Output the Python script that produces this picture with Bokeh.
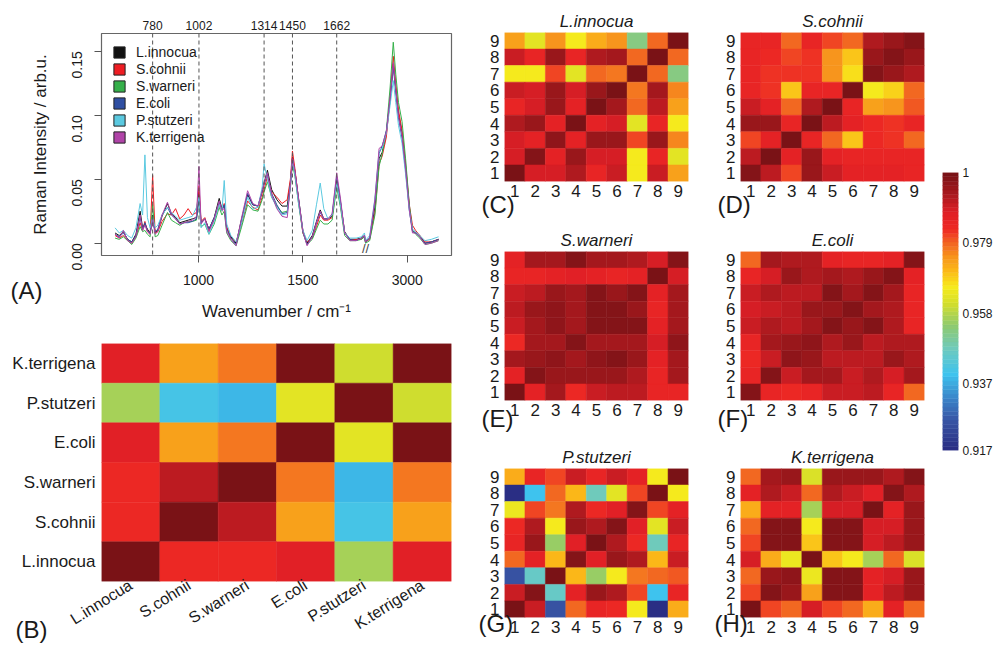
import math
import numpy as np
from bokeh.plotting import figure
from bokeh.layouts import row, column
from bokeh.models import (Range1d, FixedTicker, LinearAxis, Span, Label, Legend, LegendItem, Title,
                          ColumnDataSource, FactorRange, LinearColorMapper, PrintfTickFormatter,
                          NumeralTickFormatter)
from bokeh.transform import transform
from bokeh.embed import file_html
from bokeh.resources import INLINE

FONT = "Liberation Sans"
TXT = "#1a1a1a"

# ---------------- data ----------------
species = ["L.innocua", "S.cohnii", "S.warneri", "E.coli", "P.stutzeri", "K.terrigena"]
series_colors = ["#111111", "#ee1d23", "#35b04a", "#2f4fa2", "#5bc9e0", "#b044a8"]

wavenumber = [600, 620, 640, 660, 680, 700, 720, 732, 743, 755, 768, 780, 792, 805, 825, 851,
              870, 890, 910, 930, 950, 970, 990, 1002, 1012, 1030, 1050, 1075, 1099, 1112, 1123,
              1135, 1155, 1180, 1205, 1235, 1260, 1285, 1305, 1314, 1330, 1350, 1375, 1400, 1425,
              1440, 1450, 1462, 1480, 1500, 1520, 1545, 1565, 1583, 1600, 1620, 1640, 1662, 1680,
              1700, 1725, 1755, 1780, 1795,
              2800, 2820, 2845, 2865, 2880, 2900, 2918, 2933, 2945, 2958, 2975, 2992, 3010, 3025,
              3040, 3060, 3085, 3115, 3150]

int_L_innocua = [0.008, 0.006, 0.009, 0.003, 0.001, 0.007, 0.025, 0.012, 0.015, 0.011, 0.008, 0.022,
                 0.008, 0.010, 0.021, 0.031, 0.023, 0.020, 0.016, 0.017, 0.018, 0.019, 0.020, 0.040,
                 0.016, 0.019, 0.011, 0.020, 0.035, 0.027, 0.029, 0.012, 0.005, 0.000, 0.018, 0.038,
                 0.030, 0.029, 0.040, 0.047, 0.057, 0.042, 0.034, 0.029, 0.029, 0.048, 0.067, 0.056,
                 0.034, 0.010, 0.000, 0.006, 0.017, 0.026, 0.019, 0.019, 0.021, 0.049, 0.032, 0.009,
                 0.003, 0.003, 0.004, 0.006,
                 0.001, 0.004, 0.028, 0.066, 0.071, 0.086, 0.112, 0.140, 0.120, 0.101, 0.086, 0.060,
                 0.028, 0.010, 0.008, 0.006, 0.000, 0.001, 0.003]
int_S_cohnii = [0.006, 0.004, 0.006, 0.002, 0.000, 0.005, 0.016, 0.010, 0.017, 0.009, 0.007, 0.053,
                0.008, 0.009, 0.017, 0.023, 0.022, 0.027, 0.019, 0.022, 0.027, 0.022, 0.024, 0.045,
                0.017, 0.020, 0.010, 0.018, 0.030, 0.025, 0.031, 0.013, 0.004, 0.001, 0.014, 0.033,
                0.028, 0.026, 0.036, 0.042, 0.052, 0.040, 0.036, 0.031, 0.034, 0.050, 0.072, 0.058,
                0.032, 0.008, 0.001, 0.004, 0.013, 0.022, 0.018, 0.018, 0.020, 0.046, 0.030, 0.008,
                0.003, 0.003, 0.003, 0.005,
                0.001, 0.003, 0.024, 0.062, 0.068, 0.083, 0.115, 0.146, 0.125, 0.104, 0.088, 0.062,
                0.030, 0.014, 0.010, 0.006, 0.001, 0.001, 0.003]
int_S_warneri = [0.004, 0.003, 0.005, 0.002, -0.001, 0.004, 0.013, 0.009, 0.010, 0.007, 0.005, 0.030,
                 0.005, 0.006, 0.014, 0.024, 0.018, 0.016, 0.014, 0.016, 0.017, 0.017, 0.018, 0.035,
                 0.013, 0.015, 0.007, 0.015, 0.028, 0.022, 0.025, 0.008, 0.002, -0.002, 0.012, 0.030,
                 0.026, 0.025, 0.034, 0.040, 0.048, 0.036, 0.029, 0.024, 0.025, 0.043, 0.062, 0.052,
                 0.030, 0.008, -0.001, 0.003, 0.011, 0.018, 0.015, 0.015, 0.018, 0.044, 0.028, 0.006,
                 0.002, 0.002, 0.003, 0.005,
                 0.000, 0.002, 0.022, 0.060, 0.070, 0.088, 0.122, 0.157, 0.132, 0.110, 0.095, 0.066,
                 0.030, 0.010, 0.007, 0.004, -0.001, 0.000, 0.002]
int_E_coli = [0.007, 0.005, 0.008, 0.003, 0.001, 0.006, 0.020, 0.011, 0.016, 0.010, 0.008, 0.018,
              0.009, 0.011, 0.022, 0.028, 0.022, 0.019, 0.015, 0.016, 0.016, 0.017, 0.019, 0.035,
              0.016, 0.019, 0.011, 0.020, 0.032, 0.026, 0.030, 0.011, 0.004, -0.001, 0.017, 0.039,
              0.030, 0.029, 0.041, 0.046, 0.054, 0.039, 0.030, 0.023, 0.024, 0.046, 0.066, 0.055,
              0.033, 0.009, -0.001, 0.005, 0.016, 0.024, 0.019, 0.019, 0.022, 0.052, 0.033, 0.008,
              0.003, 0.002, 0.004, 0.006,
              0.001, 0.004, 0.032, 0.070, 0.076, 0.088, 0.112, 0.138, 0.118, 0.098, 0.082, 0.057,
              0.026, 0.009, 0.008, 0.005, 0.000, 0.001, 0.003]
int_P_stutzeri = [0.012, 0.008, 0.010, 0.006, 0.004, 0.012, 0.031, 0.022, 0.069, 0.020, 0.012, 0.020,
                  0.012, 0.014, 0.022, 0.028, 0.024, 0.021, 0.018, 0.019, 0.020, 0.021, 0.028, 0.036,
                  0.012, 0.016, 0.007, 0.017, 0.030, 0.025, 0.049, 0.015, 0.006, 0.001, 0.015, 0.036,
                  0.027, 0.028, 0.044, 0.062, 0.050, 0.036, 0.028, 0.022, 0.023, 0.045, 0.065, 0.053,
                  0.030, 0.010, 0.002, 0.010, 0.030, 0.047, 0.027, 0.019, 0.022, 0.047, 0.030, 0.008,
                  0.004, 0.004, 0.005, 0.008,
                  0.002, 0.006, 0.035, 0.072, 0.074, 0.086, 0.108, 0.127, 0.110, 0.092, 0.078, 0.054,
                  0.025, 0.011, 0.009, 0.006, 0.002, 0.003, 0.005]
int_K_terrigena = [0.007, 0.004, 0.010, 0.002, 0.000, 0.005, 0.022, 0.010, 0.014, 0.009, 0.007, 0.019,
                   0.007, 0.009, 0.022, 0.032, 0.023, 0.019, 0.015, 0.016, 0.017, 0.018, 0.021, 0.060,
                   0.015, 0.019, 0.009, 0.019, 0.033, 0.026, 0.027, 0.009, 0.003, -0.002, 0.019, 0.041,
                   0.031, 0.029, 0.041, 0.047, 0.055, 0.038, 0.027, 0.021, 0.020, 0.045, 0.066, 0.056,
                   0.034, 0.009, -0.002, 0.005, 0.016, 0.025, 0.019, 0.019, 0.023, 0.055, 0.035, 0.008,
                   0.002, 0.002, 0.004, 0.006,
                   0.001, 0.004, 0.034, 0.074, 0.076, 0.087, 0.114, 0.141, 0.120, 0.099, 0.084, 0.058,
                   0.026, 0.008, 0.008, 0.005, -0.001, 0.000, 0.002]
intensities = [int_L_innocua, int_S_cohnii, int_S_warneri, int_E_coli, int_P_stutzeri, int_K_terrigena]

peak_marks = [780, 1002, 1314, 1450, 1662]
axis_break = (1800, 2800)

# species x species similarity (rows listed top -> bottom: K.terrigena ... L.innocua)
sim_species = [
    [0.988, 0.974, 0.977, 0.999, 0.961, 1.000],
    [0.956, 0.941, 0.938, 0.963, 1.000, 0.961],
    [0.988, 0.974, 0.977, 0.999, 0.963, 0.999],
    [0.984, 0.991, 1.000, 0.977, 0.938, 0.977],
    [0.984, 1.000, 0.991, 0.974, 0.941, 0.974],
    [1.000, 0.984, 0.984, 0.988, 0.956, 0.988],
]

replicates = [1, 2, 3, 4, 5, 6, 7, 8, 9]
# replicate similarity matrices, rows listed top (9) -> bottom (1)
sim_L_innocua = [
    [0.973, 0.963, 0.975, 0.966, 0.972, 0.975, 0.953, 0.978, 1.000],
    [0.990, 0.985, 0.995, 0.985, 0.993, 0.994, 0.978, 0.999, 0.978],
    [0.965, 0.965, 0.981, 0.963, 0.978, 0.977, 1.000, 0.978, 0.953],
    [0.990, 0.989, 0.995, 0.989, 0.995, 0.999, 0.977, 0.994, 0.976],
    [0.985, 0.989, 0.995, 0.986, 1.000, 0.994, 0.978, 0.992, 0.973],
    [0.993, 0.996, 0.987, 1.000, 0.986, 0.989, 0.963, 0.985, 0.966],
    [0.989, 0.987, 0.997, 0.987, 0.995, 0.995, 0.981, 0.995, 0.976],
    [0.989, 0.998, 0.987, 0.996, 0.989, 0.989, 0.965, 0.985, 0.963],
    [1.000, 0.989, 0.989, 0.993, 0.985, 0.990, 0.965, 0.990, 0.973],
]
sim_S_cohnii = [
    [0.985, 0.985, 0.979, 0.985, 0.981, 0.978, 0.993, 0.996, 0.998],
    [0.985, 0.984, 0.981, 0.982, 0.975, 0.969, 0.996, 0.998, 0.996],
    [0.985, 0.983, 0.982, 0.982, 0.975, 0.967, 0.998, 0.996, 0.993],
    [0.985, 0.983, 0.970, 0.985, 0.985, 0.999, 0.966, 0.968, 0.978],
    [0.990, 0.987, 0.978, 0.993, 0.999, 0.985, 0.974, 0.975, 0.980],
    [0.995, 0.995, 0.985, 0.999, 0.992, 0.986, 0.984, 0.982, 0.985],
    [0.981, 0.987, 0.999, 0.985, 0.978, 0.970, 0.984, 0.982, 0.979],
    [0.991, 0.999, 0.987, 0.995, 0.987, 0.985, 0.985, 0.985, 0.985],
    [0.998, 0.991, 0.981, 0.995, 0.990, 0.986, 0.986, 0.986, 0.985],
]
sim_S_warneri = [
    [0.986, 0.994, 0.994, 0.998, 0.994, 0.994, 0.993, 0.989, 0.998],
    [0.985, 0.985, 0.986, 0.988, 0.986, 0.985, 0.986, 0.999, 0.989],
    [0.990, 0.992, 0.996, 0.994, 0.998, 0.996, 0.998, 0.986, 0.994],
    [0.992, 0.995, 0.997, 0.994, 0.998, 0.998, 0.996, 0.985, 0.994],
    [0.990, 0.994, 0.997, 0.994, 0.998, 0.998, 0.998, 0.986, 0.994],
    [0.984, 0.994, 0.994, 0.998, 0.994, 0.994, 0.994, 0.989, 0.997],
    [0.994, 0.996, 0.997, 0.994, 0.997, 0.998, 0.995, 0.986, 0.994],
    [0.987, 0.998, 0.996, 0.995, 0.995, 0.996, 0.993, 0.985, 0.994],
    [0.999, 0.987, 0.994, 0.984, 0.990, 0.992, 0.991, 0.985, 0.985],
]
sim_E_coli = [
    [0.978, 0.994, 0.993, 0.993, 0.986, 0.985, 0.985, 0.986, 0.998],
    [0.985, 0.989, 0.996, 0.993, 0.994, 0.993, 0.995, 0.998, 0.987],
    [0.990, 0.993, 0.992, 0.992, 0.998, 0.994, 0.998, 0.994, 0.985],
    [0.989, 0.990, 0.992, 0.995, 0.996, 0.998, 0.994, 0.993, 0.985],
    [0.990, 0.993, 0.992, 0.994, 0.998, 0.996, 0.998, 0.993, 0.985],
    [0.985, 0.994, 0.996, 0.997, 0.993, 0.995, 0.992, 0.993, 0.993],
    [0.984, 0.990, 0.997, 0.996, 0.992, 0.992, 0.992, 0.995, 0.993],
    [0.985, 0.998, 0.990, 0.994, 0.994, 0.990, 0.993, 0.989, 0.994],
    [0.998, 0.985, 0.984, 0.985, 0.990, 0.990, 0.991, 0.985, 0.978],
]
sim_P_stutzeri = [
    [0.972, 0.985, 0.981, 0.990, 0.985, 0.990, 0.987, 0.966, 0.999],
    [0.918, 0.940, 0.978, 0.971, 0.947, 0.963, 0.981, 0.999, 0.966],
    [0.964, 0.981, 0.977, 0.993, 0.984, 0.988, 0.998, 0.981, 0.987],
    [0.984, 0.993, 0.965, 0.995, 0.993, 0.998, 0.988, 0.963, 0.990],
    [0.985, 0.995, 0.955, 0.988, 0.999, 0.993, 0.984, 0.948, 0.985],
    [0.978, 0.986, 0.971, 0.998, 0.988, 0.995, 0.993, 0.971, 0.990],
    [0.925, 0.946, 0.999, 0.971, 0.955, 0.966, 0.977, 0.978, 0.980],
    [0.990, 0.998, 0.946, 0.986, 0.995, 0.993, 0.981, 0.940, 0.985],
    [0.999, 0.990, 0.925, 0.978, 0.985, 0.984, 0.966, 0.918, 0.972],
]
sim_K_terrigena = [
    [0.978, 0.994, 0.995, 0.962, 0.996, 0.996, 0.996, 0.993, 0.998],
    [0.986, 0.993, 0.990, 0.978, 0.993, 0.990, 0.988, 0.998, 0.993],
    [0.972, 0.987, 0.987, 0.956, 0.989, 0.989, 0.999, 0.987, 0.995],
    [0.979, 0.998, 0.998, 0.966, 0.998, 0.998, 0.989, 0.989, 0.995],
    [0.981, 0.998, 0.998, 0.969, 0.998, 0.998, 0.989, 0.992, 0.995],
    [0.989, 0.972, 0.964, 0.999, 0.969, 0.966, 0.956, 0.978, 0.962],
    [0.978, 0.996, 0.997, 0.964, 0.998, 0.998, 0.987, 0.989, 0.995],
    [0.981, 0.998, 0.996, 0.973, 0.998, 0.998, 0.987, 0.992, 0.995],
    [0.999, 0.981, 0.978, 0.989, 0.981, 0.979, 0.972, 0.986, 0.978],
]
scale_ticks = [0.917, 0.937, 0.958, 0.979, 1.0]

# ---------------- colour scale ----------------
anchor_pos = [0.00, 0.10, 0.18, 0.27, 0.36, 0.45, 0.53, 0.59, 0.65, 0.70, 0.76, 0.80, 0.86, 0.93, 1.00]
anchor_col = ["#2a2e84", "#3854a4", "#3b82c7", "#3ec3ee", "#6dcac0", "#8fca6e", "#d4df2a", "#f7ea1c",
              "#fbb818", "#f7941d", "#f15a22", "#ee2a24", "#e01f26", "#a8191e", "#7a1216"]


def build_palette(n):
    rgb = np.array([[int(c[i:i + 2], 16) for i in (1, 3, 5)] for c in anchor_col], float)
    out = []
    for t in np.linspace(0, 1, n):
        r, g, b = (int(round(np.interp(t, anchor_pos, rgb[:, k]))) for k in range(3))
        out.append("#%02x%02x%02x" % (r, g, b))
    return out


palette = build_palette(64)
mapper = LinearColorMapper(palette=palette, low=scale_ticks[0], high=scale_ticks[-1])


def base_fig(**kw):
    p = figure(output_backend="svg", toolbar_location=None, **kw)
    p.grid.visible = False
    p.background_fill_color = "white"
    p.border_fill_color = "white"
    return p


def panel_letter(p, letter, offset, standoff):
    # panel letter placed in the figure's lower side panel, left of the frame
    t = Title(text=letter, align="left", vertical_align="top", offset=offset, standoff=standoff,
              text_font=FONT, text_font_size="24px", text_font_style="normal", text_color=TXT)
    p.add_layout(t, "below")


# ---------------- Panel A: spectra ----------------
def plot_x(w):
    # compress the broken axis: remove the gap between the two spectral windows
    return w if w <= axis_break[0] else w - (axis_break[1] - axis_break[0])


xs = [plot_x(w) for w in wavenumber]
pa = base_fig(width=470, height=330, x_range=Range1d(535, 2212), y_range=Range1d(-0.0096, 0.1638),
              min_border_left=101, min_border_right=19, min_border_top=33, min_border_bottom=75)
pa.outline_line_color = "#666666"
pa.outline_line_width = 1.2

for pk in peak_marks:
    pa.add_layout(Span(location=pk, dimension="height", line_color="#555555",
                       line_dash="4 3", line_width=1))

for vals, col in zip(intensities, series_colors):
    pa.line(xs, vals, line_color=col, line_width=1)

items = []
for name, col in zip(species, series_colors):
    r = pa.quad(left=[np.nan], right=[np.nan], top=[np.nan], bottom=[np.nan],
                fill_color=col, line_color="#222222", line_width=1)
    items.append(LegendItem(label=name, renderers=[r]))
leg = Legend(items=items, location="top_left", margin=6, padding=5, spacing=1,
             glyph_width=14, glyph_height=14, label_height=16, label_standoff=10,
             label_text_font=FONT, label_text_font_size="14px", label_text_color=TXT,
             border_line_alpha=0, background_fill_alpha=0)
pa.add_layout(leg)

xa = pa.xaxis[0]
xa.ticker = FixedTicker(ticks=[1000, 1500, plot_x(3000)])
xa.major_label_overrides = {plot_x(3000): "3000"}
xa.axis_line_color = None
xa.major_tick_out = 7
xa.major_tick_in = 0
xa.major_tick_line_color = "#555555"
xa.minor_tick_line_color = None
xa.major_label_standoff = 12
xa.major_label_text_font = FONT
xa.major_label_text_font_size = "14px"
xa.major_label_text_color = TXT
xa.axis_label = "Wavenumber / cm⁻¹"
xa.axis_label_text_font = FONT
xa.axis_label_text_font_size = "17px"
xa.axis_label_text_font_style = "normal"
xa.axis_label_text_color = TXT
xa.axis_label_standoff = 14

ya = pa.yaxis[0]
ya.ticker = FixedTicker(ticks=[0, 0.05, 0.10, 0.15])
ya.formatter = PrintfTickFormatter(format="%.2f")
ya.major_label_orientation = math.pi / 2
ya.axis_line_color = None
ya.major_tick_out = 7
ya.major_tick_in = 0
ya.major_tick_line_color = "#555555"
ya.minor_tick_line_color = None
ya.major_label_standoff = 17
ya.major_label_text_font = FONT
ya.major_label_text_font_size = "14px"
ya.major_label_text_color = TXT
ya.axis_label = "Raman Intensity / arb.u."
ya.axis_label_text_font = FONT
ya.axis_label_text_font_size = "17px"
ya.axis_label_text_font_style = "normal"
ya.axis_label_text_color = TXT
ya.axis_label_standoff = 15

top_ax = LinearAxis(ticker=FixedTicker(ticks=peak_marks), axis_line_color=None,
                    major_tick_line_color=None, minor_tick_line_color=None,
                    major_tick_out=0, major_tick_in=0,
                    major_label_standoff=4, major_label_text_font=FONT,
                    major_label_text_font_size="12px", major_label_text_color=TXT)
pa.add_layout(top_ax, "above")

pa.add_layout(Label(x=axis_break[0], y=-0.0096, text="//",
                    text_font=FONT, text_font_size="13px", text_color="#444444",
                    text_align="center", text_baseline="bottom"))
panel_letter(pa, "(A)", -91, -94)

# ---------------- Panel B: species similarity ----------------
pb = base_fig(width=470, height=316, x_range=FactorRange(*species), y_range=FactorRange(*species),
              min_border_left=101, min_border_right=19, min_border_top=13, min_border_bottom=65)
bx, by, bv = [], [], []
nsp = len(species)
for i, rvals in enumerate(sim_species):
    for j, v in enumerate(rvals):
        bx.append(species[j]); by.append(species[nsp - 1 - i]); bv.append(v)
srcb = ColumnDataSource(dict(x=bx, y=by, v=bv))
pb.rect("x", "y", 1, 1, source=srcb, fill_color=transform("v", mapper),
        line_color=transform("v", mapper), line_width=0.5)
pb.outline_line_color = None
for ax in (pb.xaxis[0], pb.yaxis[0]):
    ax.axis_line_color = None
    ax.major_tick_line_color = None
    ax.minor_tick_line_color = None
    ax.major_tick_out = 0
    ax.major_tick_in = 0
    ax.major_label_text_font = FONT
    ax.major_label_text_font_size = "17px"
    ax.major_label_text_color = TXT
pb.xaxis[0].major_label_text_font_size = "16px"
pb.xaxis[0].major_label_orientation = 0.56
pb.xaxis[0].major_label_standoff = 2
pb.yaxis[0].major_label_standoff = 6
panel_letter(pb, "(B)", -86, -54)


# ---------------- Panels C-H: replicate similarity ----------------
def heat(mat, title, letter, width, height, bl, br, bt, bb, letter_offset, letter_standoff):
    n = len(replicates)
    r0, r1 = replicates[0] - 0.5, replicates[-1] + 0.5
    p = base_fig(width=width, height=height, x_range=Range1d(r0, r1), y_range=Range1d(r0, r1),
                 min_border_left=bl, min_border_right=br, min_border_top=bt, min_border_bottom=bb)
    hx, hy, hv = [], [], []
    for i, rvals in enumerate(mat):
        for j, v in enumerate(rvals):
            hx.append(replicates[j]); hy.append(replicates[n - 1 - i]); hv.append(v)
    src = ColumnDataSource(dict(x=hx, y=hy, v=hv))
    p.rect("x", "y", 1, 1, source=src, fill_color=transform("v", mapper),
           line_color=transform("v", mapper), line_width=0.5)
    p.outline_line_color = None
    p.title.text = title
    p.title.align = "center"
    p.title.text_font = FONT
    p.title.text_font_style = "italic"
    p.title.text_font_size = "17px"
    p.title.text_color = TXT
    p.title.standoff = 4
    for ax in (p.xaxis[0], p.yaxis[0]):
        ax.ticker = FixedTicker(ticks=replicates)
        ax.axis_line_color = None
        ax.major_tick_line_color = None
        ax.minor_tick_line_color = None
        ax.major_tick_out = 0
        ax.major_tick_in = 0
        ax.major_label_text_font = FONT
        ax.major_label_text_font_size = "17px"
        ax.major_label_text_color = TXT
    p.xaxis[0].major_label_standoff = 3
    p.yaxis[0].major_label_standoff = 5
    panel_letter(p, letter, letter_offset, letter_standoff)
    return p


pc = heat(sim_L_innocua, "L.innocua", "(C)", 230, 220, 34, 12, 32, 39, -23, -18)
pd = heat(sim_S_cohnii, "S.cohnii", "(D)", 235, 220, 40, 11, 32, 39, -23, -18)
pe = heat(sim_S_warneri, "S.warneri", "(E)", 230, 220, 31, 40, 31, 40, -23, -28) if False else \
    heat(sim_S_warneri, "S.warneri", "(E)", 230, 220, 34, 12, 31, 40, -23, -28)
pf = heat(sim_E_coli, "E.coli", "(F)", 235, 220, 40, 11, 31, 40, -23, -28)
pg = heat(sim_P_stutzeri, "P.stutzeri", "(G)", 230, 206, 34, 12, 28, 29, -26, -52)
ph = heat(sim_K_terrigena, "K.terrigena", "(H)", 235, 206, 40, 11, 28, 29, -26, -52)

# ---------------- colour bar ----------------
pcb = base_fig(width=60, height=646, x_range=Range1d(0, 1),
               y_range=Range1d(scale_ticks[0], scale_ticks[-1]), y_axis_location="right",
               min_border_left=7, min_border_right=35, min_border_top=172, min_border_bottom=196)
levels = np.linspace(scale_ticks[0], scale_ticks[-1], len(palette) + 1)
pcb.quad(left=0, right=1, bottom=levels[:-1], top=levels[1:], fill_color=palette,
         line_color=palette, line_width=0.5)
pcb.outline_line_color = None
pcb.xaxis.visible = False
cya = pcb.yaxis[0]
cya.ticker = FixedTicker(ticks=scale_ticks)
cya.formatter = NumeralTickFormatter(format="0.[000]")
cya.axis_line_color = None
cya.major_tick_line_color = None
cya.minor_tick_line_color = None
cya.major_tick_out = 0
cya.major_tick_in = 0
cya.major_label_standoff = 4
cya.major_label_text_font = FONT
cya.major_label_text_font_size = "12px"
cya.major_label_text_color = TXT

layout = row(column(pa, pb),
             column(row(pc, pd), row(pe, pf), row(pg, ph)),
             pcb)

open("out.html", "w").write(file_html(layout, INLINE))
